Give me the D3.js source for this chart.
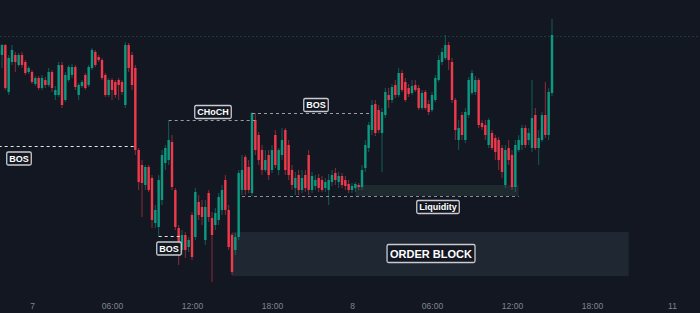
<!DOCTYPE html>
<html>
<head>
<meta charset="utf-8">
<script src="https://cdn.jsdelivr.net/npm/d3@7"></script>
<style>
  html, body { margin: 0; padding: 0; background: #131722; }
  svg { display: block; }
  .axis text { fill: #80858f; font: 8.5px "Liberation Sans", Arial, sans-serif; }
  .axis path, .axis line { display: none; }
  .tag text { fill: #fff; font-family: "Liberation Sans", Arial, sans-serif; font-weight: bold; }
</style>
</head>
<body>
<div id="chart"></div>
<script>
// 15 minute candles, price in points
var opens = [245,255,208,238,245,235,245,238,228,228,216,222,212,220,215,228,205,205,235,200,
  220,225,233,205,214,225,215,232,248,243,240,225,205,220,218,220,218,195,255,245,
  232,150,135,115,133,122,77,73,100,137,140,158,110,72,50,65,53,85,63,98,
  93,60,107,82,75,80,90,120,90,65,50,63,110,143,133,107,180,165,150,130,
  145,130,165,130,145,170,155,130,112,125,110,125,145,110,114,122,120,112,110,118,
  127,118,124,120,116,110,112,115,113,132,152,170,196,190,167,185,205,200,215,205,
  227,218,212,207,215,212,192,208,196,190,200,220,238,242,255,238,200,160,185,160,
  185,207,208,220,177,175,155,167,162,160,152,115,152,145,113,150,155,172,160,152,
  185,152,160,185,165,207];
var closes = [255,212,242,250,238,245,235,227,232,218,222,212,222,215,228,212,210,235,195,225,
  233,233,213,215,218,212,233,250,235,240,222,205,220,210,205,215,208,255,232,215,
  150,118,117,133,110,80,90,120,145,152,160,113,73,53,65,50,60,43,108,85,
  83,93,83,65,87,103,110,90,53,28,63,127,130,110,110,187,150,140,130,140,
  125,150,135,150,160,130,125,115,122,110,122,112,110,124,120,112,110,118,120,125,
  120,124,115,114,110,114,116,113,130,155,175,195,167,170,188,208,200,213,205,227,
  210,200,206,214,210,192,207,192,188,205,222,240,248,255,240,200,170,172,165,188,
  220,227,220,175,173,165,180,152,148,140,128,150,140,113,155,160,172,155,167,182,
  152,162,185,165,208,265];
var highs = [256,256,245,255,248,247,248,240,234,230,224,224,225,223,232,230,214,238,238,228,
  235,236,235,217,220,227,235,252,250,245,242,227,222,222,220,222,220,258,257,248,
  235,152,140,135,135,125,95,125,150,155,179,165,112,75,70,68,63,88,112,105,
  100,100,110,88,92,107,115,125,95,67,67,130,145,145,140,188,187,168,155,150,
  150,155,170,152,172,172,160,135,128,130,130,130,150,128,125,126,124,122,126,130,
  132,128,127,124,120,117,118,117,135,160,178,200,200,195,192,212,212,216,220,232,
  230,222,216,220,220,215,210,210,200,208,225,245,252,265,258,242,202,180,188,192,
  223,230,224,222,180,180,182,170,165,163,155,155,160,150,160,165,175,175,172,220,
  192,170,188,218,212,281];
var lows = [232,210,205,235,228,233,232,225,226,216,214,210,210,212,213,208,200,203,192,198,
  218,222,210,200,212,210,213,230,233,238,220,203,203,200,202,200,205,192,228,210,
  145,110,83,110,108,72,72,64,95,130,135,110,70,35,45,42,48,40,60,80,
  75,55,78,18,70,75,85,85,50,25,45,60,105,105,107,104,145,135,125,128,
  120,127,132,125,140,125,120,110,105,105,107,108,105,107,110,108,108,108,95,114,
  115,112,112,110,107,107,108,110,110,128,148,165,164,167,128,182,192,197,202,203,
  208,198,203,205,208,190,190,190,185,188,198,218,235,240,230,197,160,150,160,157,
  182,205,205,172,170,160,152,150,140,130,122,112,135,110,108,148,150,152,155,148,
  150,135,158,162,160,204];

// time axis: candle index -> label
var tickIndex = [9, 33, 57, 81, 105, 129, 153, 177, 201];
var tickLabels = ["7", "06:00", "12:00", "18:00", "8", "06:00", "12:00", "18:00", "11"];

// market structure levels: price, candle range
var levelNames = ["BOS", "CHoCH", "BOS", "BOS"];
var levelPrices = [154, 180, 187, 64];
var levelFrom = [-1, 50, 75, 47];
var levelTo = [40, 76, 111, 54];
var levelTagAt = [5.1, 63.3, 94.2, 50.1];
var levelTagSide = ["below", "above", "above", "below"];

// liquidity
var liquidityPrice = 104;
var liquidityTop = 115;
var liquidityFrom = 72, liquidityZoneFrom = 106, liquidityTo = 155;
var liquidityTagAt = 130.8;

// order block zone
var obTop = 68, obBottom = 24;
var obFrom = 69, obTo = 188;
var obTagAt = 128.7;

var topLinePrice = 264;

var width = 700, height = 313;

var candles = opens.map(function(o, i) {
  return { i: i, o: o, c: closes[i], h: highs[i], l: lows[i] };
});

var x = d3.scaleLinear().domain([0, 210]).range([2, 702]);
var y = d3.scaleLinear().domain([0, 300]).range([300, 0]);
var bodyW = 2.4;

var svg = d3.select("#chart").append("svg")
  .attr("width", width).attr("height", height);

svg.append("rect").attr("width", width).attr("height", height).attr("fill", "#131722");

// faint grid
svg.append("line")
  .attr("x1", 0).attr("x2", width)
  .attr("y1", Math.round(y(topLinePrice)) + 0.5).attr("y2", Math.round(y(topLinePrice)) + 0.5)
  .attr("stroke", "#1d3838").attr("stroke-dasharray", "2,2");

// zones
svg.append("rect")
  .attr("x", x(obFrom)).attr("y", y(obTop))
  .attr("width", x(obTo) - x(obFrom)).attr("height", y(obBottom) - y(obTop))
  .attr("fill", "#1f2832");

svg.append("rect")
  .attr("x", x(liquidityZoneFrom)).attr("y", y(liquidityTop))
  .attr("width", x(liquidityTo) - x(liquidityZoneFrom)).attr("height", y(liquidityPrice) - y(liquidityTop))
  .attr("fill", "#1f2a30");

// candles
var g = svg.append("g");
var up = "#0c9981", down = "#ef3a4c";
g.selectAll("line.wick").data(candles).enter().append("line")
  .attr("class", "wick")
  .attr("x1", function(d) { return x(d.i); })
  .attr("x2", function(d) { return x(d.i); })
  .attr("y1", function(d) { return y(d.h); })
  .attr("y2", function(d) { return y(d.l); })
  .attr("stroke", function(d) { return d.c >= d.o ? up : down; })
  .attr("stroke-opacity", 0.55)
  .attr("stroke-width", 1);
g.selectAll("rect.body").data(candles).enter().append("rect")
  .attr("class", "body")
  .attr("x", function(d) { return x(d.i) - bodyW / 2; })
  .attr("y", function(d) { return y(Math.max(d.o, d.c)); })
  .attr("width", bodyW)
  .attr("height", function(d) { return Math.max(1, Math.abs(y(d.o) - y(d.c))); })
  .attr("fill", function(d) { return d.c >= d.o ? up : down; });

// levels
levelNames.forEach(function(name, k) {
  var ly = Math.round(y(levelPrices[k])) + 0.5;
  svg.append("line")
    .attr("x1", x(levelFrom[k])).attr("x2", x(levelTo[k]))
    .attr("y1", ly).attr("y2", ly)
    .attr("stroke", k == 0 || k == 3 ? "#e6e6e6" : "#9a9ca3")
    .attr("stroke-width", 1)
    .attr("stroke-dasharray", "3,3");
  var cy = levelTagSide[k] == "above" ? ly - 8.5 : ly + 12;
  addTag(name, x(levelTagAt[k]), cy, 9);
});

svg.append("line")
  .attr("x1", x(liquidityFrom)).attr("x2", x(liquidityTo))
  .attr("y1", Math.round(y(liquidityPrice)) + 0.5).attr("y2", Math.round(y(liquidityPrice)) + 0.5)
  .attr("stroke", "#8b8d94").attr("stroke-dasharray", "3,3");
addTag("Liquidity", x(liquidityTagAt), y(liquidityPrice) + 11, 9);

addTag("ORDER BLOCK", x(obTagAt), (y(obTop) + y(obBottom)) / 2 - 0.5, 11);

function addTag(label, cx, cy, size) {
  var t = svg.append("g").attr("class", "tag");
  var txt = t.append("text")
    .attr("x", cx).attr("y", cy)
    .attr("text-anchor", "middle").attr("dominant-baseline", "central")
    .style("font-size", size + "px")
    .text(label);
  var b = txt.node().getBBox();
  var px = size > 10 ? 3 : 2.5, py = size > 10 ? 3 : 1.5;
  t.insert("rect", "text")
    .attr("x", b.x - px).attr("y", b.y - py)
    .attr("width", b.width + px * 2).attr("height", b.height + py * 2)
    .attr("rx", 1.5)
    .attr("fill", "#131722")
    .attr("stroke", "#c9cbd0").attr("stroke-width", 1.3);
}

// time axis
svg.append("g").attr("class", "axis")
  .attr("transform", "translate(0,300)")
  .call(d3.axisBottom(x).tickValues(tickIndex).tickSize(0).tickPadding(3)
    .tickFormat(function(d, k) { return tickLabels[k]; }));
</script>
</body>
</html>
